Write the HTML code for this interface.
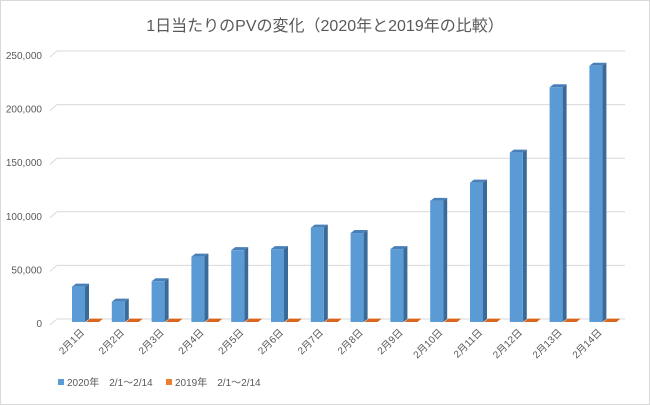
<!DOCTYPE html>
<html><head><meta charset="utf-8"><style>
body{margin:0;background:#fff}
svg{display:block;font-family:"Liberation Sans","Noto Sans CJK JP",sans-serif}
</style></head><body>
<svg width="650" height="405">
<rect x="0.5" y="0.5" width="649" height="404" fill="#fff" stroke="#d9d9d9"/>
<text x="325" y="31" text-anchor="middle" font-size="16" fill="#595959">1日当たりのPVの変化（2020年と2019年の比較）</text>
<g id="grid"></g><g id="bars"></g><g id="xl"></g>
<g>
<rect x="58" y="379" width="6" height="6" fill="#5b9bd5"/>
<text x="67" y="386" font-size="10" fill="#595959">2020年　2/1～2/14</text>
<rect x="166" y="379" width="6" height="6" fill="#ed7d31"/>
<text x="175" y="386" font-size="10" fill="#595959">2019年　2/1～2/14</text>
</g>
</svg>
<script>
const categories=["2月1日","2月2日","2月3日","2月4日","2月5日","2月6日","2月7日","2月8日","2月9日","2月10日","2月11日","2月12日","2月13日","2月14日"];
const values2020=[33000,19000,38000,61000,67000,68000,88000,83000,68000,113000,130000,158000,219000,239000];
const values2019=[300,300,300,300,300,300,300,300,300,300,300,300,300,300];
const ticks=[0,50000,100000,150000,200000,250000];
const tickLabels=["0","50,000","100,000","150,000","200,000","250,000"];
const NS="http://www.w3.org/2000/svg";
const y=v=>322-v*53.6/50000;
const x=i=>79+i*39.8;
function mk(t,a,p){const e=document.createElementNS(NS,t);for(const k in a)e.setAttribute(k,a[k]);p.appendChild(e);return e;}
const grid=document.getElementById('grid'),bars=document.getElementById('bars'),xl=document.getElementById('xl');
ticks.forEach((t,i)=>{
 const gy=y(t);
 const l=mk('polyline',{points:`50,${gy+3} 57,${gy-3} 625,${gy-3}`,fill:'none',stroke:'#d9d9d9'},grid);
 
 
 const tx=mk('text',{x:42,y:gy+5,'text-anchor':'end','font-size':'10',fill:'#595959'},grid);
 tx.textContent=tickLabels[i];
 
 
});
categories.forEach((c,i)=>{
 const cx=x(i),w=13,d=4,top=y(values2020[i]),base=322;
 const g=mk('g',{},bars);
 
 
 mk('polygon',{points:`${cx-7+w},${top} ${cx-7+w+d},${top-3} ${cx-7+w+d},${base-3} ${cx-7+w},${base}`,fill:'#3a6a98'},g);
 mk('polygon',{points:`${cx-7},${top} ${cx-7+d},${top-3} ${cx-7+w+d},${top-3} ${cx-7+w},${top}`,fill:'#4a80b8'},g);
 mk('rect',{x:cx-7,y:top,width:w,height:base-top,fill:'#5b9bd5'},g);
 const t2=y(values2019[i]);
 const o=mk('polygon',{points:`${cx+7},${base} ${cx+11},${t2-3} ${cx+24},${t2-3} ${cx+20},${base}`,fill:'#d9661f'},bars);
 
 
 const lt=mk('text',{x:0,y:0,'text-anchor':'end','font-size':'10',fill:'#595959',transform:`translate(${cx+6},${333}) rotate(-45)`},xl);
 lt.textContent=c;
 
 
});
</script>
</body></html>
